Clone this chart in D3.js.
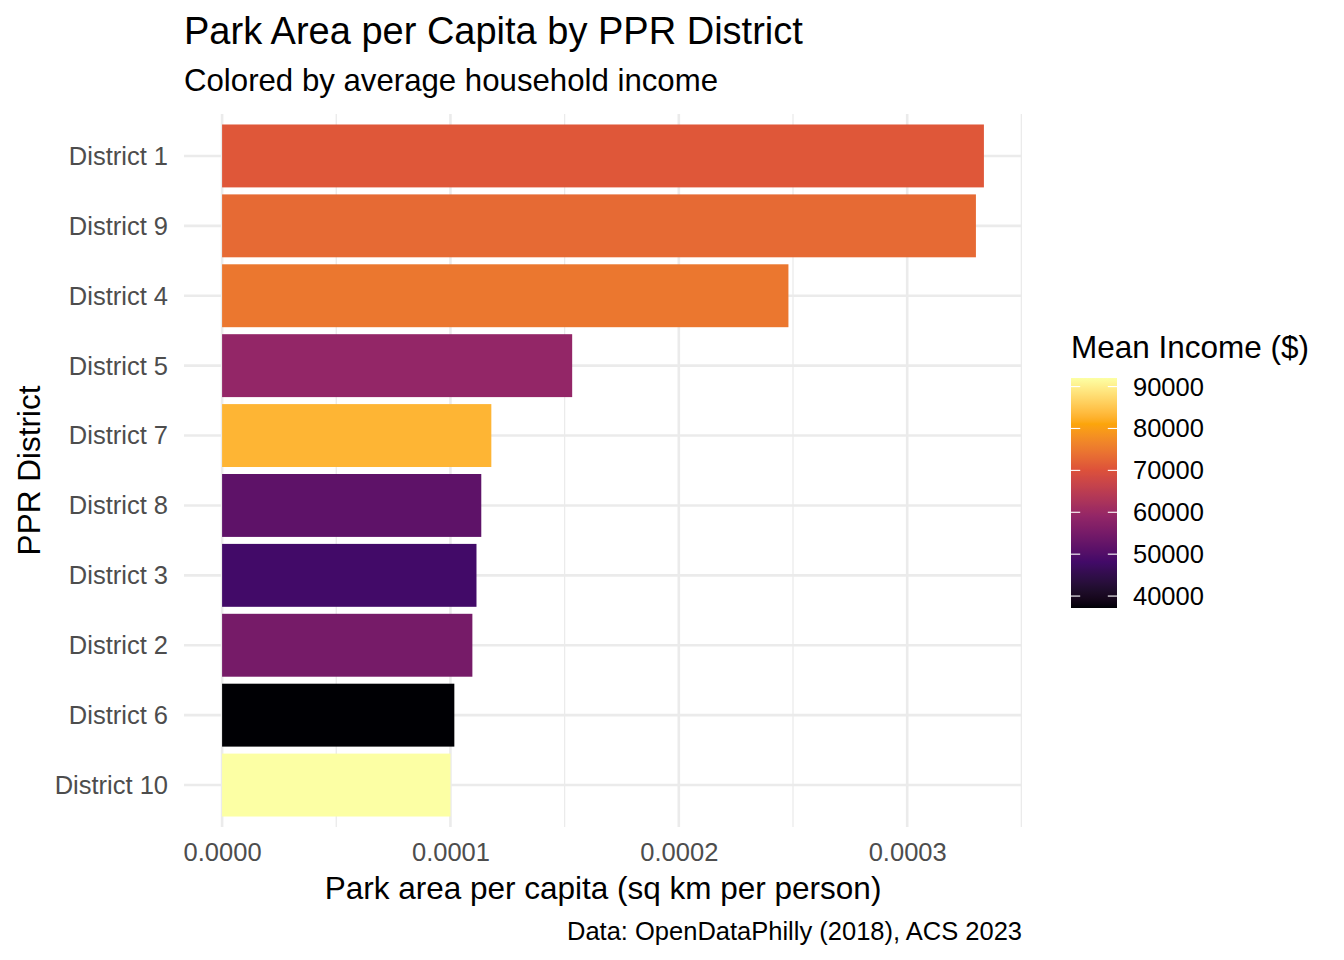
<!DOCTYPE html>
<html>
<head>
<meta charset="utf-8">
<script src="https://cdn.jsdelivr.net/npm/d3@7"></script>
<style>
  body { margin: 0; background: #fff; }
  svg { display: block; font-family: "Liberation Sans", Arial, sans-serif; }
</style>
</head>
<body>
<svg id="chart" width="1344" height="960"></svg>
<script>
// ---- Data ----
const districts = ["District 1", "District 9", "District 4", "District 5", "District 7",
                   "District 8", "District 3", "District 2", "District 6", "District 10"];
const parkPerCapita = [0.0003336, 0.0003301, 0.0002480, 0.0001533, 0.0001179,
                       0.0001135, 0.0001114, 0.0001096, 0.0001017, 0.0001000];
const meanIncome = [70800, 73100, 74800, 59100, 83050, 51650, 48150, 54950, 37150, 92050];
const xTicks = [0, 0.0001, 0.0002, 0.0003];
const xMinorTicks = [0.00005, 0.00015, 0.00025, 0.00035];
const legendTicks = [40000, 50000, 60000, 70000, 80000, 90000];
const infernoColors = ["#000004", "#420A68", "#932667", "#DD513A", "#FCA50A", "#FCFFA4"];

const titleText = "Park Area per Capita by PPR District";
const subtitleText = "Colored by average household income";
const xTitle = "Park area per capita (sq km per person)";
const yTitle = "PPR District";
const captionText = "Data: OpenDataPhilly (2018), ACS 2023";
const legendTitle = "Mean Income ($)";

// ---- Layout ----
const svg = d3.select("#chart");
const panel = { left: 184, right: 1022, top: 114, bottom: 827 };
const gridColor = "#EBEBEB";
const textGrey = "#4D4D4D";
const FONT = "Liberation Sans, Arial, sans-serif";

const xMax = d3.max(parkPerCapita);
const x = d3.scaleLinear()
  .domain([-0.05 * xMax, xMax * 1.05])
  .range([panel.left, panel.right]);

const y = d3.scaleBand()
  .domain(districts)
  .range([panel.top, panel.bottom])
  .paddingInner(0.1)
  .paddingOuter(0.15);

const incExtent = d3.extent(meanIncome);
const color = d3.scaleLinear()
  .domain(infernoColors.map((c, i) => incExtent[0] + i * (incExtent[1] - incExtent[0]) / (infernoColors.length - 1)))
  .range(infernoColors)
  .interpolate(d3.interpolateLab);

// ---- Grid ----
const grid = svg.append("g");
grid.selectAll("line.minor").data(xMinorTicks).join("line")
  .attr("x1", d => x(d)).attr("x2", d => x(d))
  .attr("y1", panel.top).attr("y2", panel.bottom)
  .attr("stroke", gridColor).attr("stroke-width", 1.3);
grid.selectAll("line.majx").data(xTicks).join("line")
  .attr("x1", d => x(d)).attr("x2", d => x(d))
  .attr("y1", panel.top).attr("y2", panel.bottom)
  .attr("stroke", gridColor).attr("stroke-width", 2.6);
grid.selectAll("line.majy").data(districts).join("line")
  .attr("x1", panel.left).attr("x2", panel.right)
  .attr("y1", d => y(d) + y.bandwidth() / 2).attr("y2", d => y(d) + y.bandwidth() / 2)
  .attr("stroke", gridColor).attr("stroke-width", 2.6);

// ---- Bars ----
svg.append("g").selectAll("rect").data(districts).join("rect")
  .attr("x", x(0))
  .attr("y", d => y(d))
  .attr("width", (d, i) => x(parkPerCapita[i]) - x(0))
  .attr("height", y.bandwidth())
  .attr("fill", (d, i) => color(meanIncome[i]));

// ---- Axes (text only, like theme_minimal) ----
const xAxis = d3.axisBottom(x).tickValues(xTicks).tickFormat(d3.format(".4f")).tickSize(0).tickPadding(0);
const gx = svg.append("g").attr("transform", `translate(0,${panel.bottom + 7})`).call(xAxis);
gx.select(".domain").remove();
gx.selectAll("text").attr("fill", textGrey).attr("font-size", 25.5)
  .attr("font-family", FONT).attr("dy", "1.05em");

const yAxis = d3.axisLeft(y).tickSize(0).tickPadding(16);
const gy = svg.append("g").attr("transform", `translate(${panel.left},0)`).call(yAxis);
gy.select(".domain").remove();
gy.selectAll("text").attr("fill", textGrey).attr("font-size", 25.5)
  .attr("font-family", FONT).attr("dy", "0.35em");

// ---- Titles ----
svg.append("text").attr("x", 184).attr("y", 44).attr("font-size", 38).attr("fill", "#000").text(titleText);
svg.append("text").attr("x", 184).attr("y", 91).attr("font-size", 31.2).attr("fill", "#000").text(subtitleText);
svg.append("text").attr("x", (panel.left + panel.right) / 2).attr("y", 899)
  .attr("text-anchor", "middle").attr("font-size", 31.5).attr("fill", "#000").text(xTitle);
svg.append("text").attr("transform", `translate(40,${(panel.top + panel.bottom) / 2}) rotate(-90)`)
  .attr("text-anchor", "middle").attr("font-size", 31.5).attr("fill", "#000").text(yTitle);
svg.append("text").attr("x", panel.right).attr("y", 940)
  .attr("text-anchor", "end").attr("font-size", 25.5).attr("fill", "#000").text(captionText);

// ---- Legend ----
const lg = { x: 1071, w: 46, top: 378, bottom: 608 };
const ly = d3.scaleLinear().domain(incExtent).range([lg.bottom, lg.top]);
const defs = svg.append("defs");
const grad = defs.append("linearGradient").attr("id", "incGrad")
  .attr("x1", 0).attr("y1", 1).attr("x2", 0).attr("y2", 0);
d3.range(0, 1.0001, 0.01).forEach(t => {
  grad.append("stop").attr("offset", t)
    .attr("stop-color", color(incExtent[0] + t * (incExtent[1] - incExtent[0])));
});
svg.append("rect").attr("x", lg.x).attr("y", lg.top).attr("width", lg.w)
  .attr("height", lg.bottom - lg.top).attr("fill", "url(#incGrad)");
const lt = svg.append("g");
lt.selectAll("line.l").data(legendTicks).join("line")
  .attr("x1", lg.x).attr("x2", lg.x + lg.w / 5)
  .attr("y1", d => ly(d)).attr("y2", d => ly(d))
  .attr("stroke", "#fff").attr("stroke-width", 1.1);
lt.selectAll("line.r").data(legendTicks).join("line")
  .attr("x1", lg.x + lg.w * 4 / 5).attr("x2", lg.x + lg.w)
  .attr("y1", d => ly(d)).attr("y2", d => ly(d))
  .attr("stroke", "#fff").attr("stroke-width", 1.1);
lt.selectAll("text").data(legendTicks).join("text")
  .attr("x", 1133).attr("y", d => ly(d)).attr("dy", "0.35em")
  .attr("font-size", 25.5).attr("fill", "#000").text(d => d);
svg.append("text").attr("x", 1071).attr("y", 358).attr("font-size", 31.5).attr("fill", "#000").text(legendTitle);
</script>
</body>
</html>
